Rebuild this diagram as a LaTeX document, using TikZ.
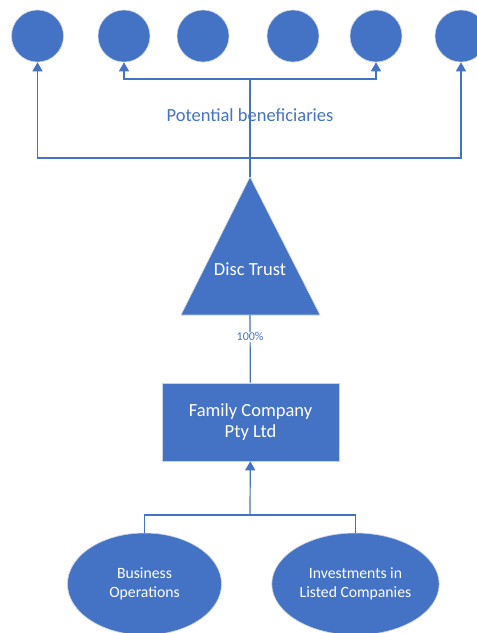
\documentclass[tikz,border=0pt]{standalone}
\usepackage{fontspec}
\setmainfont{Carlito}
\usepackage{tikz}
\usepackage{xcolor}
\usetikzlibrary{arrows.meta,positioning,shapes.geometric,calc}
\definecolor{offblue}{HTML}{4472C4}
\definecolor{rimgray}{HTML}{C9D3E6}
\tikzset{
  person/.style={circle,fill=offblue,draw=rimgray,line width=0.6pt,
                 minimum size=52pt,inner sep=0pt},
  firmbox/.style={rectangle,fill=offblue,draw=rimgray,line width=0.6pt,
                  minimum width=177pt,minimum height=78pt,align=center,
                  text=white,font=\fontsize{18.5}{21.5}\selectfont},
  assetoval/.style={ellipse,fill=offblue,draw=rimgray,line width=0.6pt,
                    minimum width=154pt,minimum height=102pt,align=center,
                    text=white,font=\fontsize{15.7}{19}\selectfont},
  link/.style={draw=offblue,line width=1.2pt},
  uparr/.style={link,-{Triangle[length=9pt,width=10pt]}}
}
\begin{document}
\begin{tikzpicture}[x=1pt,y=-1pt]
    \path[use as bounding box] (0,0) rectangle (477,633);
    % beneficiaries
    \node[person] (b1) at (37.5,36) {};
    \node[person] (b2) at (124,36) {};
    \node[person] (b3) at (203,36) {};
    \node[person] (b4) at (293,36) {};
    \node[person] (b5) at (376,36) {};
    \node[person] (b6) at (461,36) {};
    \node[text=offblue,font=\fontsize{18.5}{21}\selectfont] (bentext) at (250,115)
      {Potential beneficiaries};
    % trust
    \coordinate (apex) at (250,177);
    \coordinate (basemid) at (250,315);
    \fill[offblue,draw=rimgray,line width=0.6pt] (apex) -- (181,315) -- (320,315) -- cycle;
    \node[text=white,font=\fontsize{18.5}{21}\selectfont] (trust) at (250,269) {Disc Trust};
    \coordinate (fork) at (250,79);
    \coordinate (split) at (250,158);
    \draw[link] (apex) -- (fork);
    \draw[uparr] (split) -| (b1);
    \draw[uparr] (split) -| (b6);
    \draw[uparr] (fork) -| (b2);
    \draw[uparr] (fork) -| (b5);
    % company and assets
    \node[firmbox] (company) at (250.5,422) {Family Company\\Pty Ltd};
    \draw[link] (basemid) -- node[fill=white,text=offblue,inner sep=1pt,
      font=\fontsize{12}{14}\selectfont,pos=0.32] (share) {100\%} (company);
    \node[assetoval] (ops) at (144.5,584) {Business\\Operations};
    \node[assetoval] (inv) at (355.5,584) {Investments in\\Listed Companies};
    \coordinate (join) at (250,515);
    \draw[link] (ops) |- (join);
    \draw[link] (inv) |- (join);
    \draw[uparr] (join) -- (company);
  \end{tikzpicture}
\end{document}
